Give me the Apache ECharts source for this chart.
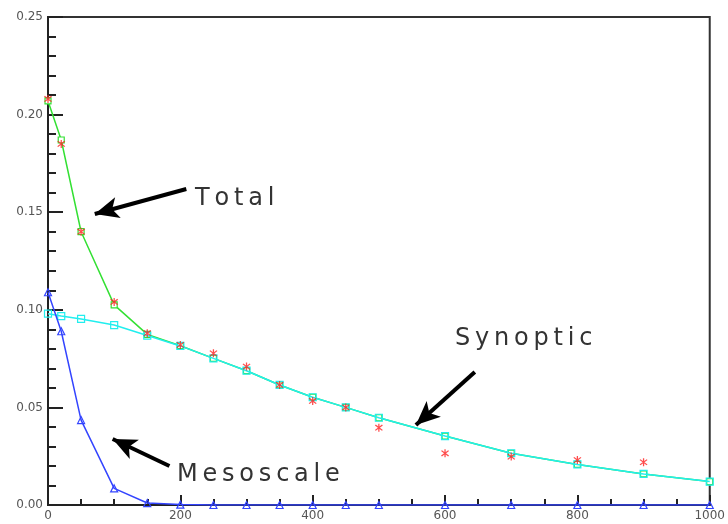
<!DOCTYPE html>
<html>
<head>
<meta charset="utf-8">
<script src="https://cdn.jsdelivr.net/npm/echarts@6/dist/echarts.min.js"></script>
<style>
  html, body { margin: 0; padding: 0; background: #fff; }
  #chart { width: 728px; height: 524px; }
</style>
</head>
<body>
<div id="chart"></div>
<script>
// Separation distance (km)
const distances = [0, 20, 50, 100, 150, 200, 250, 300, 350, 400, 450, 500, 600, 700, 800, 900, 1000];

// Observed correlation values
const observed = [0.208, 0.185, 0.140, 0.104, 0.088, 0.082, 0.0777, 0.0709, 0.0615, 0.0533, 0.050, 0.0396, 0.0265, 0.0248, 0.023, 0.0219, null];

// Fitted total (synoptic + mesoscale)
const total = [0.207, 0.187, 0.140, 0.1025, 0.0874, 0.0816, 0.0751, 0.0688, 0.0615, 0.0552, 0.050, 0.0447, 0.0353, 0.0265, 0.0208, 0.0159, 0.0120];

// Synoptic component
const synoptic = [0.098, 0.0968, 0.0953, 0.0922, 0.0868, 0.0815, 0.0751, 0.0688, 0.0615, 0.0552, 0.050, 0.0447, 0.0353, 0.0265, 0.0208, 0.0159, 0.0120];

// Mesoscale component
const mesoscale = [0.109, 0.089, 0.0435, 0.0085, 0.001, 0.0002, 0, 0, 0, 0, 0, 0, 0, 0, 0, 0, 0];

// Annotation arrows: [tail, head] in data coordinates
const arrowTotal = [[209, 0.1619], [70.7, 0.1491]];
const arrowSynoptic = [[645, 0.0681], [556, 0.041]];
const arrowMeso = [[183.5, 0.020], [97.7, 0.0338]];

const pairs = (ys) => distances.map((x, i) => [x, ys[i]]);

// Asterisk marker
const starPath = 'path://M4.3 0 L5.7 0 L5.7 10 L4.3 10 Z M0.6 2.1 L1.6 1.1 L9.4 7.9 L8.4 8.9 Z M8.4 1.1 L9.4 2.1 L1.6 8.9 L0.6 7.9 Z';

const chart = echarts.init(document.getElementById('chart'), null, { renderer: 'canvas' });

const tickLabel = { color: '#555', fontSize: 12, fontFamily: 'DejaVu Sans' };
const labelFont = { fontFamily: 'DejaVu Sans', fontSize: 24, fill: '#333' };

chart.setOption({
  animation: false,
  backgroundColor: '#fff',
  grid: {
    left: 48, right: 15, top: 17, bottom: 19,
    show: true, borderColor: '#333', borderWidth: 2, backgroundColor: 'transparent'
  },
  xAxis: {
    type: 'value', min: 0, max: 1000, interval: 200,
    axisLine: { show: true, lineStyle: { color: '#222', width: 2 } },
    axisTick: { show: true, inside: true, length: 10, lineStyle: { color: '#222', width: 2 } },
    minorTick: { show: true, splitNumber: 4, length: 6, lineStyle: { color: '#222', width: 2 } },
    axisLabel: Object.assign({ margin: 5, showMaxLabel: true, showMinLabel: true, formatter: (v) => String(v) }, tickLabel),
    splitLine: { show: false }
  },
  yAxis: {
    type: 'value', min: 0, max: 0.25, interval: 0.05,
    axisLine: { show: true, lineStyle: { color: '#222', width: 2 } },
    axisTick: { show: true, inside: true, length: 15, lineStyle: { color: '#222', width: 2 } },
    minorTick: { show: true, splitNumber: 5, length: 8, lineStyle: { color: '#222', width: 2 } },
    axisLabel: Object.assign({ margin: 5, formatter: (v) => v.toFixed(2) }, tickLabel),
    splitLine: { show: false }
  },
  series: [
    {
      name: 'Total', type: 'line', data: pairs(total),
      symbol: 'rect', symbolSize: 6, showAllSymbol: true,
      lineStyle: { color: '#33e033', width: 1.5 },
      itemStyle: { color: '#fff', borderColor: '#33e033', borderWidth: 1.2 }, z: 2
    },
    {
      name: 'Synoptic', type: 'line', data: pairs(synoptic),
      symbol: 'rect', symbolSize: 7, showAllSymbol: true,
      lineStyle: { color: '#22eeee', width: 1.5 },
      itemStyle: { color: 'transparent', borderColor: '#22eeee', borderWidth: 1.2 }, z: 3
    },
    {
      name: 'Mesoscale', type: 'line', data: pairs(mesoscale),
      symbol: 'triangle', symbolSize: 7, showAllSymbol: true,
      lineStyle: { color: '#3344ff', width: 1.5 },
      itemStyle: { color: 'transparent', borderColor: '#3344ff', borderWidth: 1.2 }, z: 4
    },
    {
      name: 'Observed', type: 'scatter', data: pairs(observed).filter(p => p[1] !== null),
      symbol: starPath, symbolSize: 8,
      itemStyle: { color: '#ff2020' }, z: 5,
      markLine: {
        silent: true, symbol: ['none', 'arrow'], symbolSize: [16, 24],
        lineStyle: { color: '#000', width: 4, type: 'solid' },
        label: { show: false },
        data: [arrowTotal, arrowSynoptic, arrowMeso].map(a => [{ coord: a[0] }, { coord: a[1] }])
      }
    }
  ],
  graphic: [
    { type: 'text', left: 195, top: 187, style: Object.assign({ text: 'T\u2009o\u2009t\u2009a\u2009l' }, labelFont) },
    { type: 'text', left: 455, top: 327, style: Object.assign({ text: 'S\u2009y\u2009n\u2009o\u2009p\u2009t\u2009i\u2009c' }, labelFont) },
    { type: 'text', left: 177, top: 463, style: Object.assign({ text: 'M\u2009e\u2009s\u2009o\u2009s\u2009c\u2009a\u2009l\u2009e' }, labelFont) }
  ]
});
</script>
</body>
</html>
